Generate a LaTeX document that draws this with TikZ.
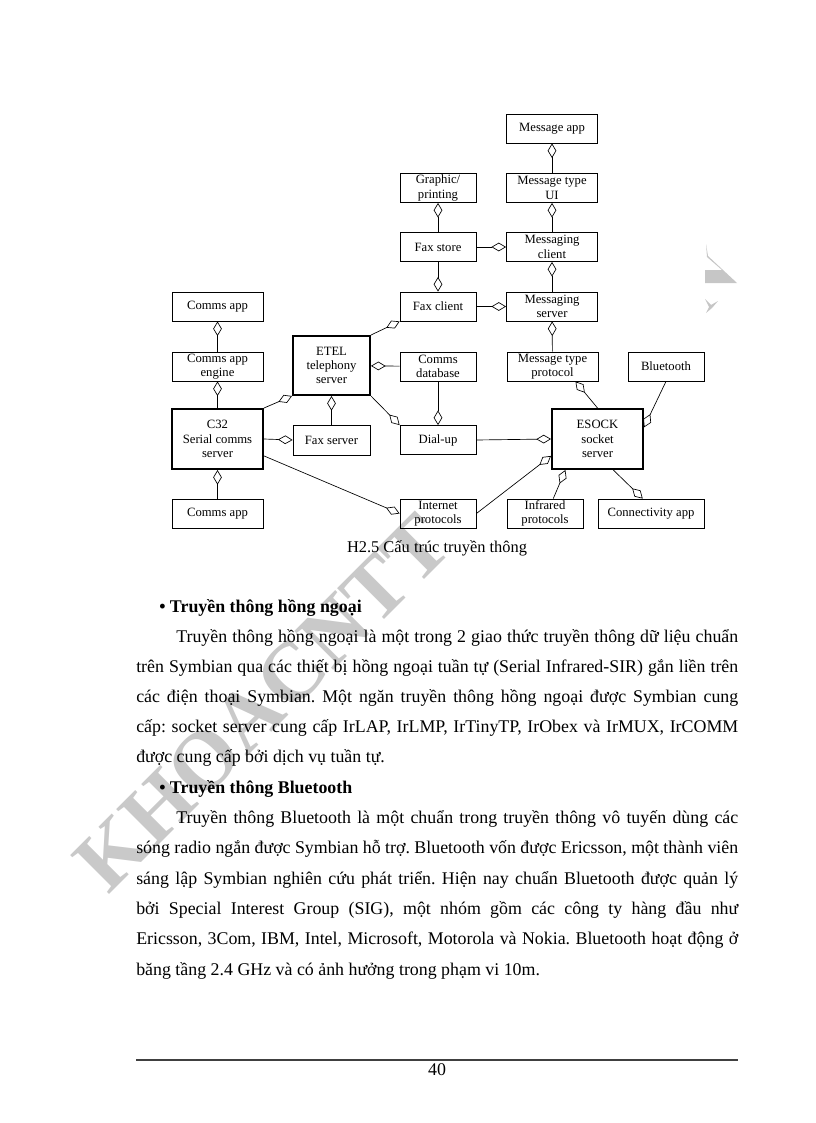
\documentclass[tikz,border=0pt]{standalone}
\usepackage{fontspec}
\setmainfont{Liberation Serif}
\usetikzlibrary{arrows.meta}
\frenchspacing

\newcommand{\fullline}[1]{\makebox[451.5pt][s]{#1}}
\newcommand{\firstline}[1]{\makebox[421.5pt][s]{#1}}

\begin{document}
\begin{tikzpicture}[x=0.75pt, y=-0.75pt,
    box/.style={draw, line width=0.6pt, align=center, inner xsep=1pt, inner ysep=0pt,
      minimum width=57pt, minimum height=21.75pt,
      font=\fontsize{9.5pt}{10.8pt}\selectfont},
    widebox/.style={box, minimum width=68.25pt},
    server/.style={box, line width=1.5pt, minimum height=45pt},
    agg/.style={line width=0.5pt, -{Diamond[open, length=11pt, width=6.5pt]}},
    txt/.style={anchor=base west, inner sep=0pt, font=\fontsize{13.4pt}{15pt}\selectfont},
    head/.style={txt, font=\fontsize{13.4pt}{15pt}\selectfont\bfseries},
    watermark/.style={text=gray!42, inner sep=0pt, rotate=45, font=\fontsize{63pt}{63pt}\selectfont\bfseries}]
    \useasboundingbox (0,0) rectangle (816,1123);

    % watermark
    \node[watermark] (wm) at (262,703) {KHOACNTT};
    \fill[gray!45] (706,244) -- (708,256) -- (737,283) -- (705,283) -- (705,270) -- (722,270) -- (707,257) -- cycle;
    \fill[gray!45] (705,299) -- (711,305) -- (718,301) -- (712,308) -- (706,313) -- (709,307) -- cycle;

    % messaging column
    \node[widebox] (msgapp) at (552,128.5) {Message app};
    \node[widebox] (msgui) at (552,188) {Message type\\UI};
    \node[widebox] (msgclient) at (552,247) {Messaging\\client};
    \node[widebox] (msgserver) at (552,306.5) {Messaging\\server};
    \node[widebox] (msgproto) at (552.5,366.5) {Message type\\protocol};

    % fax column
    \node[box] (graphic) at (438,188) {Graphic/\\printing};
    \node[box] (faxstore) at (438,247) {Fax store};
    \node[box] (faxclient) at (438,306.5) {Fax client};
    \node[box] (commsdb) at (438,366.5) {Comms\\database};
    \node[box] (dialup) at (438,440) {Dial-up};
    \node[box] (inet) at (438,513.5) {Internet\\protocols};

    % comms column
    \node[widebox] (appA) at (217.5,306.5) {Comms app};
    \node[widebox] (engine) at (217.5,366.5) {Comms app\\engine};
    \node[server, minimum width=68.25pt] (c32) at (217.5,439) {C32\\Serial comms\\server};
    \node[widebox] (appB) at (217.5,513.5) {Comms app};

    \node[server, minimum width=57.75pt, minimum height=44.25pt] (etel) at (331.5,365.5) {ETEL\\telephony\\server};
    \node[box, minimum width=57.75pt, minimum height=22.5pt] (faxserver) at (331.5,440) {Fax server};

    % socket side
    \node[server, minimum width=68.25pt] (esock) at (597.5,439) {ESOCK\\socket\\server};
    \node[box] (bluetooth) at (666,366.5) {Bluetooth};
    \node[box] (infrared) at (545,513.5) {Infrared\\protocols};
    \node[box, minimum width=79.5pt] (connect) at (651,513.5) {Connectivity app};

    % links
    \draw[agg] (msgui) -- (msgapp);
    \draw[agg] (msgclient) -- (msgui);
    \draw[agg] (msgserver) -- (msgclient);
    \draw[agg] (msgproto) -- (msgserver);
    \draw[agg] (faxstore) -- (graphic);
    \draw[agg] (faxstore) -- (faxclient);
    \draw[agg] (faxstore) -- (msgclient);
    \draw[agg] (faxclient) -- (msgserver);
    \draw[agg] (etel.north east) -- (faxclient.south west);
    \draw[agg] (engine) -- (appA);
    \draw[agg] (c32) -- (engine);
    \draw[agg] (appB) -- (c32);
    \draw[agg] (commsdb) -- (etel);
    \draw[agg] (c32.north east) -- (etel.south west);
    \draw[agg] (faxserver) -- (etel);
    \draw[agg] (etel.south east) -- (dialup.north west);
    \draw[agg] (commsdb) -- (dialup);
    \draw[agg] (c32.east) -- (faxserver.west);
    \draw[agg] (c32.-20) -- (inet.west);
    \draw[agg] (dialup.east) -- (esock.west);
    \draw[agg] (inet.east) -- (esock.200);
    \draw[agg] (infrared.61) -- (esock.224);
    \draw[agg] (esock.-63) -- (connect.119);
    \draw[agg] (esock.north) -- (msgproto.-33);
    \draw[agg] (bluetooth.south) -- (esock.14);

    \node[anchor=base, inner sep=0pt, font=\fontsize{12.3pt}{14pt}\selectfont] (cap) at (437,552) {H2.5 Cấu trúc truyền thông};

    % text
    \node[head] (h1) at (159,612) {• Truyền thông hồng ngoại};
    \node[txt] (p1a) at (176,642) {\firstline{Truyền thông hồng ngoại là một trong 2 giao thức truyền thông dữ liệu chuẩn}};
    \node[txt] (p1b) at (136,672) {\fullline{trên Symbian qua các thiết bị hồng ngoại tuần tự (Serial Infrared-SIR) gắn liền trên}};
    \node[txt] (p1c) at (136,702) {\fullline{các điện thoại Symbian. Một ngăn truyền thông hồng ngoại được Symbian cung}};
    \node[txt] (p1d) at (136,732) {\fullline{cấp: socket server cung cấp IrLAP, IrLMP, IrTinyTP, IrObex và IrMUX, IrCOMM}};
    \node[txt] (p1e) at (136,762) {được cung cấp bởi dịch vụ tuần tự.};

    \node[head] (h2) at (159,793) {• Truyền thông Bluetooth};
    \node[txt] (p2a) at (176,823) {\firstline{Truyền thông Bluetooth là một chuẩn trong truyền thông vô tuyến dùng các}};
    \node[txt] (p2b) at (136,853) {\fullline{sóng radio ngắn được Symbian hỗ trợ. Bluetooth vốn được Ericsson, một thành viên}};
    \node[txt] (p2c) at (136,884) {\fullline{sáng lập Symbian nghiên cứu phát triển. Hiện nay chuẩn Bluetooth được quản lý}};
    \node[txt] (p2d) at (136,914) {\fullline{bởi Special Interest Group (SIG), một nhóm gồm các công ty hàng đầu như}};
    \node[txt] (p2e) at (136,944) {\fullline{Ericsson, 3Com, IBM, Intel, Microsoft, Motorola và Nokia. Bluetooth hoạt động ở}};
    \node[txt] (p2f) at (136,975) {băng tầng 2.4 GHz và có ảnh hưởng trong phạm vi 10m.};

    % footer
    \draw[line width=1.3pt, black!75] (136,1060) -- (738,1060);
    \node[txt, anchor=base] (page) at (437,1075) {40};
\end{tikzpicture}
\end{document}
